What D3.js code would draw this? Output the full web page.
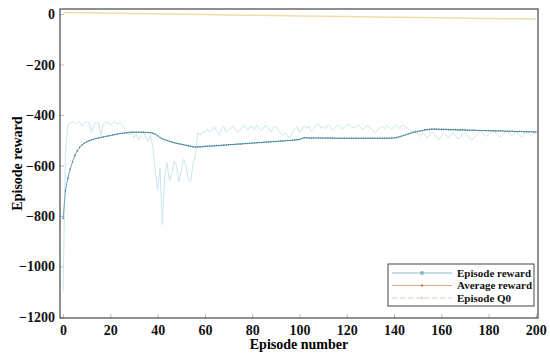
<!DOCTYPE html>
<html>
<head>
<meta charset="utf-8">
<script src="https://cdn.jsdelivr.net/npm/d3@7"></script>
<style>
  body { margin: 0; background: #fff; }
  svg text { font-family: "Liberation Serif", "Times New Roman", serif; font-weight: bold; }
</style>
</head>
<body>
<svg width="550" height="355"></svg>
<script>
// episode reward, one value per episode 0..200
const rawReward = [
  -1100, -560, -440, -430, -425, -435, -430, -428, -445, -432,
  -426, -430, -470, -440, -428, -432, -480, -436, -430, -428,
  -440, -432, -426, -436, -430, -440, -452, -470, -480, -465,
  -490, -475, -500, -480, -468, -490, -505, -480, -530, -620,
  -700, -610, -835, -640, -590, -660, -630, -580, -600, -665,
  -620, -575, -600, -655, -665, -590, -560, -470, -480, -465,
  -470, -455, -470, -460, -448, -465, -480, -455, -445, -470,
  -460, -452, -445, -458, -470, -455, -448, -442, -460, -450,
  -445, -458, -440, -452, -462, -448, -440, -455, -468, -450,
  -445, -460, -472, -480, -470, -485, -490, -470, -455, -445,
  -470, -460, -440, -452, -445, -465, -458, -440, -435, -450,
  -445, -455, -440, -448, -460, -450, -440, -445, -455, -448,
  -440, -436, -446, -452, -444, -440, -450, -458, -448, -442,
  -452, -462, -470, -460, -450, -445, -455, -440, -450, -458,
  -445, -438, -452, -446, -440, -448, -455, -462, -470, -460,
  -475, -485, -470, -478, -490, -480, -468, -475, -490, -498,
  -485, -472, -480, -490, -478, -470, -482, -495, -488, -476,
  -470, -480, -492, -500, -488, -478, -470, -465, -475, -485,
  -478, -470, -462, -470, -480, -488, -478, -470, -465, -475,
  -482, -472, -466, -478, -488, -475, -468, -472, -480, -470,
  -475
];

// average reward, one value per episode 0..200
const avgReward = [
  -810, -700, -650, -615, -585, -560, -542, -528, -519, -512,
  -506, -502, -499, -496, -493, -491, -489, -487, -485, -483,
  -481, -479, -477, -475, -473, -472, -471, -470, -469, -468,
  -468, -468, -468, -468, -468, -469, -469, -470, -472, -476,
  -482, -489, -494, -498, -501, -504, -507, -510, -512, -514,
  -516, -518, -520, -522, -524, -526, -527, -526, -526, -525,
  -524, -524, -523, -523, -522, -521, -521, -520, -519, -519,
  -518, -517, -517, -516, -515, -515, -514, -513, -513, -512,
  -511, -511, -510, -509, -509, -508, -507, -507, -506, -505,
  -505, -504, -503, -503, -502, -501, -501, -500, -499, -498,
  -497, -493, -490, -490, -491, -491, -491, -491, -491, -491,
  -491, -491, -491, -491, -491, -492, -492, -492, -492, -492,
  -492, -492, -492, -492, -492, -492, -492, -492, -492, -492,
  -492, -492, -492, -492, -492, -492, -492, -492, -492, -491,
  -491, -489, -487, -484, -481, -478, -475, -472, -469, -467,
  -465, -463, -461, -459, -458, -457, -456, -456, -456, -457,
  -457, -457, -457, -458, -458, -458, -458, -459, -459, -459,
  -459, -460, -460, -460, -460, -461, -461, -461, -461, -462,
  -462, -462, -462, -463, -463, -463, -463, -464, -464, -464,
  -464, -465, -465, -465, -465, -466, -466, -466, -466, -467,
  -467
];

// episode Q0, read every 10 episodes
const q0Episodes = [0, 10, 20, 30, 40, 50, 60, 70, 80, 90, 100, 110, 120, 130, 140, 150, 160, 170, 180, 190, 200];
const q0Values = [6, 5, 3, 2, 1, -1, -2, -4, -5, -6, -8, -9, -10, -12, -13, -14, -15, -17, -18, -19, -20];

const xTicks = [0, 20, 40, 60, 80, 100, 120, 140, 160, 180, 200];
const yTicks = [0, -200, -400, -600, -800, -1000, -1200];
const legendLabels = ['Episode reward', 'Average reward', 'Episode Q0'];

const svg = d3.select('svg');
const mLeft = 60, mRight = 538, mTop = 9, mBottom = 318;
const serif = '"Liberation Serif", "Times New Roman", serif';

const x = d3.scaleLinear().domain([-1.3, 200.9]).range([mLeft, mRight]);
const y = d3.scaleLinear().domain([-1204, 20]).range([mBottom, mTop]);

const fmt = d => d < 0 ? '\u2212' + Math.abs(d) : String(d);

// axes, ticks inward
const xAxis = svg.append('g')
  .attr('transform', `translate(0,${mBottom})`)
  .call(d3.axisBottom(x).tickValues(xTicks).tickSize(-4).tickPadding(7).tickFormat(fmt));
const yAxis = svg.append('g')
  .attr('transform', `translate(${mLeft},0)`)
  .call(d3.axisLeft(y).tickValues(yTicks).tickSize(-4).tickPadding(5).tickFormat(fmt));
[xAxis, yAxis].forEach(g => {
  g.attr('font-family', serif);
  g.select('.domain').remove();
  g.selectAll('.tick line').attr('stroke', '#bbb');
  g.selectAll('.tick text')
    .attr('fill', '#111')
    .style('font-family', serif)
    .style('font-weight', 'bold')
    .style('font-size', '14px');
});

// frame
svg.append('rect')
  .attr('x', mLeft).attr('y', mTop)
  .attr('width', mRight - mLeft).attr('height', mBottom - mTop)
  .attr('fill', 'none').attr('stroke', '#555').attr('stroke-width', 1.3);

const line = d3.line().x((d, i) => x(i)).y(d => y(d));

svg.append('path')
  .datum(rawReward)
  .attr('d', line)
  .attr('fill', 'none')
  .attr('stroke', '#cbe6ec')
  .attr('stroke-width', 1);

svg.append('path')
  .datum(q0Values)
  .attr('d', d3.line().x((d, i) => x(q0Episodes[i])).y(d => y(d)))
  .attr('fill', 'none')
  .attr('stroke', '#ecdfa8')
  .attr('stroke-width', 1.5);

svg.append('path')
  .datum(avgReward)
  .attr('d', line)
  .attr('fill', 'none')
  .attr('stroke', '#6fa8bb')
  .attr('stroke-width', 1);

svg.append('g').selectAll('circle')
  .data(avgReward)
  .join('circle')
  .attr('cx', (d, i) => x(i))
  .attr('cy', d => y(d))
  .attr('r', 0.8)
  .attr('fill', '#3f7f93');

// axis titles
svg.append('text')
  .attr('x', (mLeft + mRight) / 2).attr('y', 349)
  .attr('text-anchor', 'middle')
  .style('font-size', '14px')
  .text('Episode number');
svg.append('text')
  .attr('transform', `translate(22,${(mTop + mBottom) / 2}) rotate(-90)`)
  .attr('text-anchor', 'middle')
  .style('font-size', '14px')
  .text('Episode reward');

// legend
const lg = svg.append('g').attr('transform', 'translate(388,264)');
lg.append('rect')
  .attr('width', 146).attr('height', 42)
  .attr('fill', '#fff').attr('stroke', '#444').attr('stroke-width', 1);
const legendColors = ['#8cb9cc', '#e2a585', '#e6c9b8'];
const markerColors = ['#8cb9cc', '#d8774a', '#e6c9b8'];
legendLabels.forEach((lab, i) => {
  const ly = 9 + i * 12.5;
  lg.append('line')
    .attr('x1', 4).attr('x2', 64).attr('y1', ly).attr('y2', ly)
    .attr('stroke', legendColors[i]).attr('stroke-width', 1)
    .attr('stroke-dasharray', i === 2 ? '5,3' : null);
  lg.append('circle')
    .attr('cx', 34).attr('cy', ly).attr('r', i === 0 ? 2 : 1.2)
    .attr('fill', markerColors[i]);
  lg.append('text')
    .attr('x', 69).attr('y', ly + 3.5)
    .style('font-size', '11px')
    .attr('fill', '#111')
    .text(lab);
});
</script>
</body>
</html>
